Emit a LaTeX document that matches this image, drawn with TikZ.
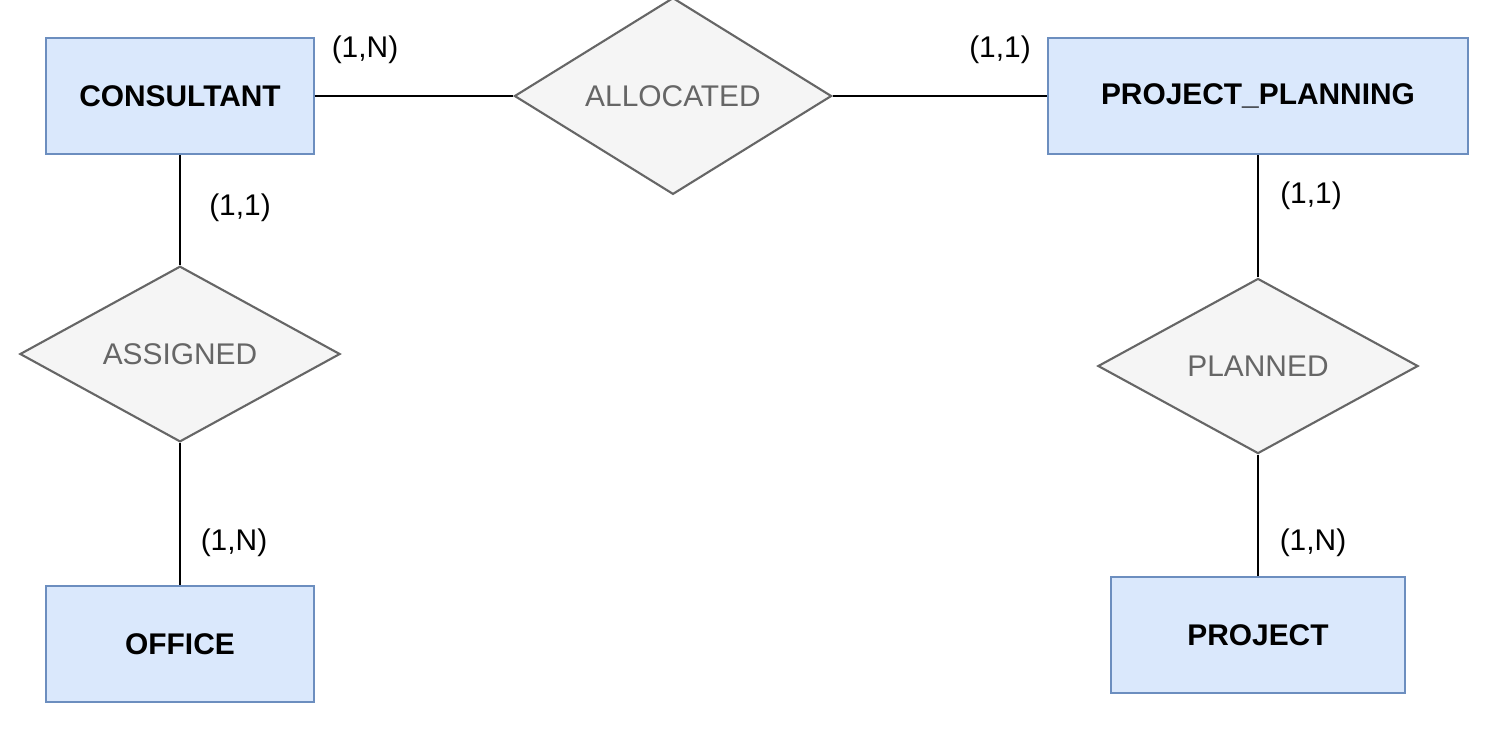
\documentclass[tikz,border=0pt]{standalone}
\usepackage{fontspec}
\setmainfont{Liberation Sans}
\usetikzlibrary{shapes.geometric}
\definecolor{entfill}{HTML}{DAE8FC}
\definecolor{entline}{HTML}{6C8EBF}
\definecolor{relfill}{HTML}{F5F5F5}
\definecolor{relline}{HTML}{666666}
\begin{document}
\begin{tikzpicture}[x=0.01cm, y=-0.01cm,
                    entity/.style={rectangle, draw=entline, fill=entfill, line width=0.6pt, minimum height=1.16cm, font=\fontsize{8.5}{10}\selectfont\bfseries},
                    relation/.style={diamond, draw=relline, fill=relfill, line width=0.6pt, inner sep=0pt, minimum height=1.75cm, text=relline, font=\fontsize{8.5}{10}\selectfont},
                    card/.style={font=\fontsize{8.5}{10}\selectfont},
                    edge_style/.style={draw=black, line width=0.6pt}]
                    \useasboundingbox (0,0) rectangle (1502,750);
                    \node[entity, minimum width=2.67cm] (consultant) at (180, 96) {CONSULTANT};
                    \node[entity, minimum width=4.19cm] (planning) at (1258, 96) {PROJECT\_PLANNING};
                    \node[entity, minimum width=2.67cm] (office) at (180, 644) {OFFICE};
                    \node[entity, minimum width=2.93cm] (project) at (1258, 635) {PROJECT};
                    \node[relation, minimum width=3.17cm] (allocated) at (673, 96) {ALLOCATED};
                    \node[relation, minimum width=3.2cm] (assigned) at (180, 354) {ASSIGNED};
                    \node[relation, minimum width=3.2cm] (planned) at (1258, 366) {PLANNED};
                    \draw[edge_style] (consultant) -- (allocated);
                    \draw[edge_style] (allocated) -- (planning);
                    \draw[edge_style] (consultant) -- (assigned);
                    \draw[edge_style] (assigned) -- (office);
                    \draw[edge_style] (planning) -- (planned);
                    \draw[edge_style] (planned) -- (project);
                    \node[card] (c1) at (365, 50) {(1,N)};
                    \node[card] (c2) at (1000, 50) {(1,1)};
                    \node[card] (c3) at (240, 208) {(1,1)};
                    \node[card] (c4) at (234, 543) {(1,N)};
                    \node[card] (c5) at (1311, 196) {(1,1)};
                    \node[card] (c6) at (1313, 543) {(1,N)};
                \end{tikzpicture}
\end{document}
